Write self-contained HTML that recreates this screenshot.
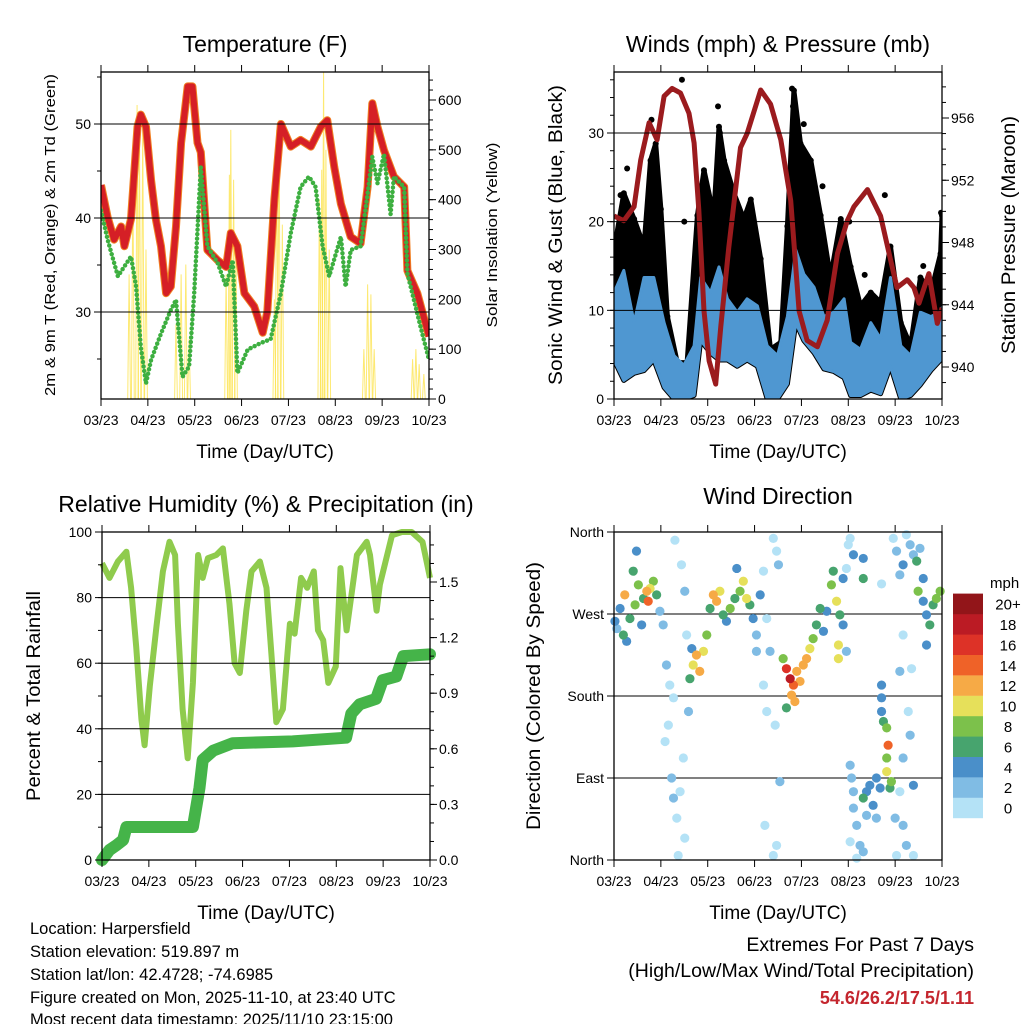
<!DOCTYPE html>
<html><head><meta charset="utf-8"><style>
html,body{margin:0;padding:0;background:#fff;}
svg{display:block;font-family:"Liberation Sans",Arial,sans-serif;}
</style></head><body>
<svg id="c" width="1024" height="1024" viewBox="0 0 1024 1024" xmlns="http://www.w3.org/2000/svg">
<rect width="1024" height="1024" fill="#fff"/>
<g font-size="16.5" fill="#000">
<text x="30" y="934">Location: Harpersfield</text>
<text x="30" y="957">Station elevation: 519.897 m</text>
<text x="30" y="980">Station lat/lon: 42.4728; -74.6985</text>
<text x="30" y="1003">Figure created on Mon, 2025-11-10, at 23:40 UTC</text>
<text x="30" y="1025">Most recent data timestamp: 2025/11/10 23:15:00</text>
</g>
<g text-anchor="end">
<text x="974" y="951" font-size="19.5">Extremes For Past 7 Days</text>
<text x="974" y="977" font-size="19.5">(High/Low/Max Wind/Total Precipitation)</text>
<text x="974" y="1004" font-size="18" font-weight="bold" fill="#c4262e">54.6/26.2/17.5/1.11</text>
</g>
</svg>
<script>
// ---------- DATA ----------
const monthLabels = ["03/23","04/23","05/23","06/23","07/23","08/23","09/23","10/23"];
const tempMonths = [0,.14,.28,.43,.50,.64,.78,.85,.96,1.07,1.17,1.28,1.39,1.49,1.60,1.71,1.85,1.95,2.06,2.13,2.27,2.49,2.67,2.77,2.91,3.06,3.27,3.45,3.55,3.70,3.84,4.05,4.26,4.48,4.69,4.83,4.98,5.12,5.33,5.54,5.69,5.79,5.90,6.04,6.25,6.47,6.54,6.75,7.0];
const tempRed = [43.5,40.1,37.7,39.1,37.0,39.9,49.7,51.0,49.7,44.0,39.9,37.0,32.0,32.7,39.1,48.0,54.0,54.0,48,47,36.6,35.5,34.8,38.4,37.0,32,30.6,27.8,30,42,50,47.6,48.3,47.6,49.7,50.4,45.4,41.5,38,37.3,43.3,52.2,49.7,47.2,44.4,43.3,34.4,32,27.4];
const tdMonths = [0,.14,.36,.64,.75,.85,.96,1.07,1.28,1.49,1.60,1.74,1.88,1.99,2.13,2.27,2.49,2.67,2.81,2.91,3.13,3.41,3.62,3.84,4.05,4.26,4.44,4.58,4.73,4.87,5.12,5.22,5.33,5.54,5.69,5.79,5.90,6.04,6.18,6.25,6.47,6.54,6.82,7.0];
const tdGreen = [40.8,37.7,33.8,35.9,32.7,26.3,22.4,24.9,27.7,30.2,31.3,23.1,24.2,32,45.4,37,35.2,32.7,35.5,23.5,26,26.7,27.1,32,38.4,43.3,44.4,43.3,37,33.8,38,32.7,36.6,37,42.6,46.5,43.7,46.8,40.4,44.4,43.3,34.1,28.4,24.9];
const solarMonths = [.60,.68,.77,.82,.89,.96,1.60,1.71,1.81,1.88,2.67,2.74,2.77,2.83,2.88,3.70,3.75,3.80,3.87,4.66,4.71,4.75,4.80,4.87,5.61,5.69,5.76,5.83,6.65,6.72,6.79,6.89];
const solarPeak = [250,450,590,560,560,300,150,250,270,120,250,450,540,440,300,200,540,560,350,400,460,660,500,300,100,230,210,100,80,100,70,50];
const windMonths = [0,.21,.43,.64,.85,1.07,1.28,1.49,1.71,1.85,2.06,2.24,2.42,2.63,2.84,3.06,3.27,3.49,3.70,3.88,4.05,4.27,4.48,4.69,4.91,5.05,5.26,5.48,5.69,5.90,6.12,6.33,6.54,6.76,6.97,7.0];
const windHigh = [12,14.5,8.6,13.7,13.7,8.6,4.9,3.8,6,13.7,12,14.9,11.3,9.8,11.3,10.5,6,4.9,9.3,16.8,14.1,12.6,9.3,9.8,11.3,6.4,5.6,8.6,6.8,13.7,6,4.9,9.8,9.3,9.8,10.3];
const windLow = [4.4,2.1,2.9,3.2,4.4,1.3,0,0,0.4,6.6,5.2,4.4,4.4,3.7,4.4,3.7,0,0,1.7,8.6,6.6,5.2,3.4,3.1,2.4,0.4,0.4,1,0.6,3.7,0,0.4,1.6,3.2,4.4,5];
const gustMonths = [0,.21,.43,.64,.78,.89,1.0,1.14,1.35,1.56,1.78,1.92,2.13,2.24,2.35,2.56,2.77,2.92,3.13,3.34,3.56,3.70,3.84,3.98,4.20,4.41,4.62,4.84,5.05,5.26,5.48,5.69,5.90,6.12,6.33,6.54,6.76,6.97,7.0];
const gustHigh = [16.8,23.2,20.3,17.2,26.9,28.8,21.4,9.3,4.1,4.1,20.7,25.8,20.7,30.7,26.9,23.2,20.3,22.5,15.8,5.6,6.4,19.5,34.8,28.8,26.9,20.7,13.7,20.3,14.9,10.5,12,10.9,17.2,8.6,6,13.7,12,16.4,20.7];
const gustOutMonths = [.14,.28,.80,1.45,1.50,2.22,2.26,3.80,3.82,4.05,4.45,5.02,5.35,5.78,6.60,6.98];
const gustOut = [23,26,31.5,36,20,33,30,35,33,31,24,20,14,23,15,21];
const presMonths = [0,.21,.43,.57,.75,.92,1.07,1.24,1.42,1.60,1.71,1.81,1.92,2.03,2.17,2.28,2.45,2.70,2.84,3.13,3.34,3.56,3.77,3.95,4.12,4.34,4.55,4.77,4.98,5.12,5.41,5.69,5.90,6.04,6.26,6.40,6.51,6.72,6.90,7.0];
const pressure = [949.7,949.4,950.3,953.3,955.7,954.6,957.4,957.9,957.6,956.3,954.4,950.1,943.6,940.4,938.9,942.6,947.7,954.1,955,957.8,956.9,954.6,950.7,943.6,941.7,941.3,943,947.3,949.4,950.3,951.4,949.7,946.9,945.1,945.6,945.1,944.1,946,942.8,943.8];
const rhMonths = [0,.16,.34,.52,.62,.73,.84,.91,1.02,1.16,1.30,1.44,1.56,1.62,1.72,1.83,1.94,2.05,2.15,2.26,2.44,2.58,2.72,2.83,2.94,3.08,3.19,3.37,3.51,3.62,3.72,3.86,4.01,4.11,4.25,4.38,4.52,4.61,4.72,4.83,4.99,5.09,5.22,5.44,5.65,5.72,5.86,5.93,6.19,6.40,6.61,6.84,7.0];
const rhVals = [90.5,86,91,94,83,65,43,35,53,71,88,97,93,72,46,31,54,93,86,92,93,95,78,60,57,76,88,91,83,62,42,46,72,69,86,83,88,70,67,54,59,89,70,93,97,93,76,84,99,100,100,97,86];
const rainMonths = [0,.16,.31,.45,.52,.66,1.94,2.08,2.15,2.37,2.79,4.07,5.21,5.32,5.50,5.85,5.99,6.28,6.43,7.0];
const rainTotal = [0,.054,.08,.108,.178,.178,.178,.39,.54,.59,.63,.64,.66,.79,.84,.87,.97,.99,1.10,1.11];
const dirMonths = [.02,.06,.13,.20,.23,.27,.34,.41,.45,.48,.52,.59,.63,.70,.73,.77,.84,.91,.98,1.05,1.12,1.19,1.16,1.23,1.27,1.34,1.37,1.30,1.44,1.51,1.55,1.59,1.48,1.41,1.51,1.09,1.27,1.62,1.69,1.76,1.83,1.91,1.98,1.66,2.05,2.12,2.19,2.26,2.33,2.40,2.48,2.58,2.62,2.69,2.76,2.83,2.90,2.97,3.04,3.12,3.19,3.26,3.33,3.40,3.47,3.51,3.19,3.26,3.44,3.54,3.22,3.47,3.40,3.04,3.61,3.68,3.76,3.83,3.90,3.97,4.04,4.11,3.79,3.68,3.86,4.18,4.25,4.32,4.40,4.47,4.54,4.64,4.68,4.75,4.82,4.79,4.79,4.89,4.96,5.00,5.04,4.89,4.96,5.04,5.07,5.11,5.18,5.25,5.32,5.39,5.46,5.53,5.60,5.60,5.18,5.32,5.04,5.11,5.68,5.39,5.71,5.71,5.71,5.75,5.82,5.85,5.82,5.82,5.92,5.89,5.96,6.03,6.10,6.17,6.24,6.32,6.39,6.46,6.49,6.53,6.60,6.67,6.74,6.81,6.88,6.96,6.67,6.17,6.10,6.35,6.28,6.32,6.17,6.39,6.17,6.03,6.39,6.10,6.00,6.24,5.71,5.32,5.11,5.32,6.60];
const dirDeg = [262,254,276,247,291,240,265,317,280,339,302,258,287,295,284,298,306,291,273,258,214,192,148,90,68,46,5,351,324,295,247,163,112,75,24,130,178,199,214,225,207,229,247,232,276,291,284,295,269,262,276,287,320,295,306,287,280,265,247,291,317,265,229,353,339,324,192,163,148,86,38,16,5,229,221,210,199,192,207,196,214,221,181,167,174,232,243,258,276,251,273,302,317,284,269,236,221,309,320,346,353,258,229,104,90,57,38,16,68,75,82,60,90,46,2,9,20,75,79,49,192,178,163,152,145,126,112,97,86,79,353,339,313,324,357,346,335,328,295,342,284,269,258,280,287,295,236,247,207,210,163,137,112,82,38,5,5,75,46,16,303,309,335,331,309];
const dirSpeed = [4,3,5,6,12,4,7,6,8,4,9,4,7,12,14,10,9,6,3,2,2,1,1,2,3,1,1,1,1,2,1,3,1,1,0,1,1,6,10,12,13,10,8,4,6,12,12,10,6,5,8,7,5,9,10,10,6,4,3,4,1,1,2,0,1,2,1,1,1,3,1,1,1,3,8,16,18,14,13,12,12,12,12,6,12,10,8,6,6,4,5,9,7,10,6,10,10,4,1,1,0,4,2,3,2,2,2,3,6,4,5,4,5,3,1,3,1,3,4,3,4,4,4,6,8,14,8,10,8,6,1,3,2,4,1,2,3,6,8,2,4,4,6,6,8,8,4,1,2,1,1,3,2,4,3,1,1,1,3,2,0,6,4,4,4];
const speedLevels = ["0","2","4","6","8","10","12","14","16","18","20+"];
const speedColors = ["#b4e2f6","#80bce4","#4a8fc9","#47a46e","#7cc14b","#e6e05a","#f6aa46","#ef6228","#dd3227","#bb1b24","#921519"];

// ---------- HELPERS ----------
const NS = "http://www.w3.org/2000/svg";
const svg = document.getElementById('c');
function el(tag, attrs, parent){ const e=document.createElementNS(NS,tag); for(const k in attrs) e.setAttribute(k,attrs[k]); (parent||svg).appendChild(e); return e; }
function txt(s, attrs, parent){ const e=el('text',attrs,parent); e.textContent=s; return e; }
function scale(d0,d1,r0,r1){ return v => r0 + (v-d0)/(d1-d0)*(r1-r0); }
function pathFrom(xs, ys, fx, fy){ return xs.map((m,i)=>(i?'L':'M')+fx(m).toFixed(1)+' '+fy(ys[i]).toFixed(1)).join(' '); }

function frame(P, name){
  const g = el('g',{});
  
  
  el('rect',{x:P.x0,y:P.y0,width:P.x1-P.x0,height:P.y1-P.y0,fill:'none',stroke:'#000','stroke-width':1.3},g);
  const fx = scale(0,7,P.x0,P.x1);
  for(let i=0;i<8;i++){
    const x=fx(i);
    el('line',{x1:x,x2:x,y1:P.y1,y2:P.y1+7,stroke:'#000'},g);
    el('line',{x1:x,x2:x,y1:P.y0,y2:P.y0-7,stroke:'#000'},g);
    const t = txt(monthLabels[i],{x:x,y:P.y1+26,'font-size':14,'text-anchor':'middle'},g);
    
    
  }
  const xt = txt('Time (Day/UTC)',{x:(P.x0+P.x1)/2,y:P.y1+59,'font-size':19,'text-anchor':'middle'},g);
  
  
  return g;
}
function leftAxis(P, vals, labels, fy, minorStep, dmin, dmax, grid, name){
  const g = el('g',{});
  
  
  vals.forEach((v,i)=>{
    const y=fy(v);
    if(grid) el('line',{x1:P.x0,x2:P.x1,y1:y,y2:y,stroke:'#000','stroke-width':1},g);
    el('line',{x1:P.x0-7,x2:P.x0,y1:y,y2:y,stroke:'#000'},g);
    const t=txt(labels[i],{x:P.x0-10,y:y+5,'font-size':14,'text-anchor':'end'},g);
    
    
  });
  if(minorStep){ for(let v=Math.ceil(dmin/minorStep)*minorStep; v<=dmax; v+=minorStep){ const y=fy(v); el('line',{x1:P.x0-4,x2:P.x0,y1:y,y2:y,stroke:'#000'},g);} }
}
function rightAxis(P, vals, labels, fy, minorStep, dmin, dmax, name){
  const g = el('g',{});
  
  
  vals.forEach((v,i)=>{
    const y=fy(v);
    el('line',{x1:P.x1,x2:P.x1+7,y1:y,y2:y,stroke:'#000'},g);
    const t=txt(labels[i],{x:P.x1+9,y:y+5,'font-size':14},g);
    
    
  });
  if(minorStep){ for(let v=Math.ceil(dmin/minorStep)*minorStep; v<=dmax+1e-9; v+=minorStep){ const y=fy(v); el('line',{x1:P.x1,x2:P.x1+4,y1:y,y2:y,stroke:'#000'},g);} }
}
function vTitle(s, x, yc, size, len, name){
  const t = txt(s,{x:0,y:0,'font-size':size,'text-anchor':'middle',transform:`translate(${x},${yc}) rotate(-90)`,textLength:len,lengthAdjust:'spacingAndGlyphs'});
  
  
}
function title(s,x,y,name){
  const t = txt(s,{x:x,y:y,'font-size':23,'text-anchor':'middle'});
  
  
}

// ---------- PANEL 1: TEMPERATURE ----------
(function(){
  const P={x0:101,x1:429,y0:72,y1:399};
  const fx=scale(0,7,P.x0,P.x1), fy=scale(30,50,312,124), fs=scale(0,600,399,100);
  title('Temperature (F)',265,52,'temperature-title');
  const cp=el('clipPath',{id:'clip1'}); el('rect',{x:P.x0,y:P.y0,width:P.x1-P.x0,height:P.y1-P.y0},cp);
  const g=el('g',{'clip-path':'url(#clip1)'});
  
  
  solarMonths.forEach((m,i)=>{
    const p=el('path',{d:`M${fx(m-0.03)} ${fs(0)} L${fx(m)} ${fs(solarPeak[i])} L${fx(m+0.03)} ${fs(0)}`,fill:'none',stroke:'#fde44f','stroke-width':1,opacity:.8},g);
    
    
  });
  const o=el('path',{d:pathFrom(tempMonths,tempRed,fx,fy),fill:'none',stroke:'#f07f22','stroke-width':8,'stroke-linejoin':'round'},g);
  
  
  const r=el('path',{d:pathFrom(tempMonths,tempRed,fx,fy),fill:'none',stroke:'#d51f26','stroke-width':6,'stroke-linejoin':'round'},g);
  
  
  const d=el('path',{d:pathFrom(tdMonths,tdGreen,fx,fy),fill:'none',stroke:'#3daf40','stroke-width':4.5,'stroke-linecap':'round','stroke-dasharray':'0 4.5'},g);
  
  
  leftAxis(P,[30,40,50],['30','40','50'],fy,5,22,55,true,'temperature-y-axis');
  rightAxis(P,[0,100,200,300,400,500,600],['0','100','200','300','400','500','600'],fs,20,0,650,'solar-y-axis');
  frame(P,'temperature');
  vTitle('2m & 9m T (Red, Orange) & 2m Td (Green)',55,235,15,322,'temperature-y-title');
  vTitle('Solar Insolation (Yellow)',497,235,15,185,'solar-y-title');
})();

// ---------- PANEL 2: WINDS ----------
(function(){
  const P={x0:614,x1:942,y0:72,y1:399};
  const fx=scale(0,7,P.x0,P.x1), fy=scale(0,30,399,133), fp=scale(940,956,367,118);
  title('Winds (mph) & Pressure (mb)',778,52,'winds-title');
  const cp=el('clipPath',{id:'clip2'}); el('rect',{x:P.x0,y:P.y0,width:P.x1-P.x0,height:P.y1-P.y0},cp);
  const g=el('g',{'clip-path':'url(#clip2)'});
  
  
  let dG = pathFrom(gustMonths,gustHigh,fx,fy);
  for(let i=windMonths.length-1;i>=0;i--) dG+=' L'+fx(windMonths[i]).toFixed(1)+' '+fy(windLow[i]).toFixed(1);
  const gb=el('path',{d:dG+'Z',fill:'#000',stroke:'#000','stroke-width':5,'stroke-linejoin':'round'},g);
  
  
  gustMonths.forEach((m,i)=>{
    const c=el('circle',{cx:fx(m),cy:fy(gustHigh[i]),r:3},g);
    
    
  });
  gustOutMonths.forEach((m,i)=>{
    const c=el('circle',{cx:fx(m),cy:fy(gustOut[i]),r:3},g);
    
    
  });
  let dW = pathFrom(windMonths,windHigh,fx,fy);
  for(let i=windMonths.length-1;i>=0;i--) dW+=' L'+fx(windMonths[i]).toFixed(1)+' '+fy(windLow[i]).toFixed(1);
  const wb=el('path',{d:dW+'Z',fill:'#4f97d1',stroke:'#4f97d1','stroke-width':3,'stroke-linejoin':'round'},g);
  
  
  const pl=el('path',{d:pathFrom(presMonths,pressure,fx,fp),fill:'none',stroke:'#9b1b1e','stroke-width':5,'stroke-linejoin':'round'},g);
  
  
  leftAxis(P,[0,10,20,30],['0','10','20','30'],fy,2,0,36,true,'wind-y-axis');
  rightAxis(P,[940,944,948,952,956],['940','944','948','952','956'],fp,1,939,958,'pressure-y-axis');
  frame(P,'winds');
  vTitle('Sonic Wind & Gust (Blue, Black)',562,235,19,300,'wind-y-title');
  vTitle('Station Pressure (Maroon)',1015,235,19,238,'pressure-y-title');
})();

// ---------- PANEL 3: RH & PRECIP ----------
(function(){
  const P={x0:102,x1:430,y0:532,y1:860};
  const fx=scale(0,7,P.x0,P.x1), fy=scale(0,100,860,532), fr=scale(0,1.5,860,582);
  title('Relative Humidity (%) & Precipitation (in)',266,512,'rh-precip-title');
  const cp=el('clipPath',{id:'clip3'}); el('rect',{x:P.x0-8,y:P.y0-8,width:P.x1-P.x0+16,height:P.y1-P.y0+16},cp);
  const g=el('g',{'clip-path':'url(#clip3)'});
  
  
  const rl=el('path',{d:pathFrom(rhMonths,rhVals,fx,fy),fill:'none',stroke:'#8fcb4d','stroke-width':6,'stroke-linejoin':'round'},g);
  
  
  const pr=el('path',{d:pathFrom(rainMonths,rainTotal,fx,fr),fill:'none',stroke:'#45b449','stroke-width':12,'stroke-linejoin':'round','stroke-linecap':'round'},g);
  
  
  leftAxis(P,[0,20,40,60,80,100],['0','20','40','60','80','100'],fy,10,0,100,true,'rh-y-axis');
  rightAxis(P,[0,.3,.6,.9,1.2,1.5],['0.0','0.3','0.6','0.9','1.2','1.5'],fr,0.1,0,1.75,'precip-y-axis');
  frame(P,'rh');
  vTitle('Percent & Total Rainfall',40,696,19,210,'rh-y-title');
})();

// ---------- PANEL 4: WIND DIRECTION ----------
(function(){
  const P={x0:614,x1:942,y0:532,y1:860};
  const fx=scale(0,7,P.x0,P.x1), fy=scale(0,360,860,532);
  title('Wind Direction',778,504,'wind-direction-title');
  leftAxis(P,[0,90,180,270,360],['North','East','South','West','North'],fy,0,0,0,true,'direction-y-axis');
  const g=el('g',{});
  
  
  const order = dirSpeed.map((s,i)=>i).sort((a,b)=>dirSpeed[a]-dirSpeed[b]);
  order.forEach(i=>{
    const ci=Math.min(10,Math.floor(dirSpeed[i]/2));
    const c=el('circle',{cx:fx(dirMonths[i]),cy:fy(dirDeg[i]),r:4.6,fill:speedColors[ci]},g);
    
    
  });
  frame(P,'wind-direction');
  vTitle('Direction (Colored By Speed)',540,696,19,268,'direction-y-title');
  const lg=el('g',{});
  
  
  const lt=txt('mph',{x:990,y:588,'font-size':15},lg);
  
  
  speedLevels.forEach((s,i)=>{
    const y=818-(i+1)*20.4;
    const r=el('rect',{x:953,y:y,width:30,height:20.6,fill:speedColors[i]},lg);
    
    
    const t=txt(s,{x:1008,y:y+16,'font-size':15,'text-anchor':'middle'},lg);
    
    
  });
})();
</script>
</body></html>
